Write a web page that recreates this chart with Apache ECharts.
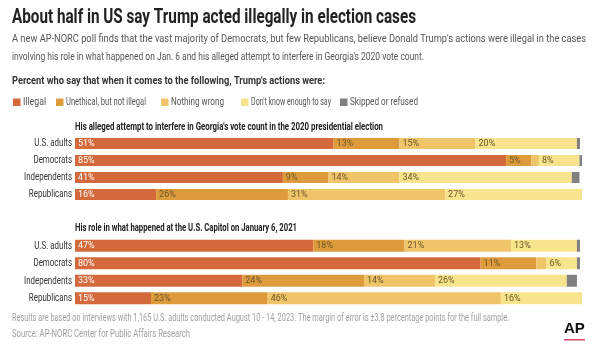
<!DOCTYPE html>
<html><head><meta charset="utf-8">
<script src="https://cdn.jsdelivr.net/npm/echarts@6/dist/echarts.min.js"></script>
<style>html,body{margin:0;padding:0;background:#fff}#c{width:600px;height:346px}</style>
</head><body><div id="c"></div>
<script>
const categories = ['U.S. adults', 'Democrats', 'Independents', 'Republicans'];
const seriesNames = ['Illegal', 'Unethical, but not illegal', 'Nothing wrong', "Don't know enough to say", 'Skipped or refused'];
// Chart 1: Georgia vote count
const georgiaIllegal   = [51, 85, 41, 16];
const georgiaUnethical = [13, 5, 9, 26];
const georgiaNothing   = [15, 1.5, 14, 31];
const georgiaDontKnow  = [20, 8, 34, 27];
const georgiaSkipped   = [0.6, 0.6, 1.5, 0];
// Chart 2: U.S. Capitol, January 6
const capitolIllegal   = [47, 80, 33, 15];
const capitolUnethical = [18, 11, 24, 23];
const capitolNothing   = [21, 2, 14, 46];
const capitolDontKnow  = [13, 6, 26, 16];
const capitolSkipped   = [0.6, 0.6, 2, 0];

const colors = ['#d4693b', '#dd9b3c', '#f0c468', '#f9e48e', '#808080'];
const labelColors = ['#ffffff', '#6a5628', '#6a5628', '#6a5628', '#6a5628'];
const FAM = 'Roboto, "Liberation Sans", sans-serif';

const mctx = document.createElement('canvas').getContext('2d');
function measure(text, size, weight) {
  mctx.font = weight + ' ' + size + 'px ' + FAM;
  return mctx.measureText(text).width;
}
function fitText(text, x, y, targetW, size, weight, color) {
  const w = measure(text, size, weight);
  return { type: 'text', x: x, y: y, scaleX: targetW / w, silent: true,
    style: { text: text, fontFamily: FAM, fontSize: size, fontWeight: weight, fill: color, textVerticalAlign: 'middle' } };
}

const chart = echarts.init(document.getElementById('c'));
const grids = [
  { left: 75, right: 18, top: 135, height: 68 },
  { left: 75, right: 18, top: 237, height: 70 }
];
function mkSeries(dataSets, gi) {
  return dataSets.map((d, i) => ({
    name: seriesNames[i], type: 'bar', stack: 's' + gi, xAxisIndex: gi, yAxisIndex: gi,
    data: d, barWidth: gi === 0 ? 11 : 12,
    itemStyle: { color: colors[i] },
    label: { show: i < 4, position: 'insideLeft', distance: 3, color: labelColors[i],
      fontFamily: FAM, fontSize: 9,
      formatter: p => (p.value >= 3 ? p.value + '%' : '') },
    emphasis: { disabled: true }, animation: false
  }));
}
const series = mkSeries([georgiaIllegal, georgiaUnethical, georgiaNothing, georgiaDontKnow, georgiaSkipped], 0)
  .concat(mkSeries([capitolIllegal, capitolUnethical, capitolNothing, capitolDontKnow, capitolSkipped], 1));

const xAx = gi => ({ type: 'value', gridIndex: gi, min: 0, max: 100, show: false });
const yAx = gi => ({ type: 'category', gridIndex: gi, data: categories, inverse: true,
  axisLine: { show: false }, axisTick: { show: false }, axisLabel: { show: false } });

chart.setOption({
  animation: false,
  grid: grids,
  xAxis: [xAx(0), xAx(1)],
  yAxis: [yAx(0), yAx(1)],
  series: series
});

// Legend drawn as key (square + condensed text)
const legendSquareX = [13, 56, 161, 241, 340];
const legendTextEnd = [46, 146, 224, 331, 418];
const legendGraphics = [];
seriesNames.forEach((n, i) => {
  legendGraphics.push({ type: 'rect', silent: true, shape: { x: legendSquareX[i], y: 98.5, width: 7.5, height: 7.5 }, style: { fill: colors[i] } });
  legendGraphics.push(fitText(n, legendSquareX[i] + 10, 102.5, legendTextEnd[i] - legendSquareX[i] - 10, 11, 'normal', '#555'));
});

// Category labels placed with the library's own category scale
const catScale = 48 / measure('Independents', 11, 'normal');
const catLabels = [];
[0, 1].forEach(gi => {
  categories.forEach(c => {
    const y = chart.convertToPixel({ yAxisIndex: gi }, c);
    catLabels.push({ type: 'text', x: 72, y: y, scaleX: catScale, silent: true,
      style: { text: c, fontFamily: FAM, fontSize: 11, fontWeight: 'normal', fill: '#333', textAlign: 'right', textVerticalAlign: 'middle' } });
  });
});

chart.setOption({
  graphic: [
    fitText('About half in US say Trump acted illegally in election cases', 12, 17.5, 404, 20, 'bold', '#222'),
    fitText("A new AP-NORC poll finds that the vast majority of Democrats, but few Republicans, believe Donald Trump's actions were illegal in the cases", 12, 39, 574, 11.5, 'normal', '#555'),
    fitText("involving his role in what happened on Jan. 6 and his alleged attempt to interfere in Georgia's 2020 vote count.", 12, 57, 412, 11.5, 'normal', '#555'),
    fitText("Percent who say that when it comes to the following, Trump's actions were:", 12, 81, 313, 11, 'bold', '#333'),
    fitText("His alleged attempt to interfere in Georgia's vote count in the 2020 presidential election", 75, 127, 308, 10.5, 'bold', '#222'),
    fitText('His role in what happened at the U.S. Capitol on January 6, 2021', 75, 228, 222, 10.5, 'bold', '#222'),
    fitText('Results are based on interviews with 1,165 U.S. adults conducted August 10 - 14, 2023. The margin of error is \u00b13.8 percentage points for the full sample.', 12, 318, 497, 10, 'normal', '#a0a0a0'),
    fitText('Source: AP-NORC Center for Public Affairs Research', 12, 334, 178, 10, 'normal', '#a0a0a0'),
    { type: 'text', x: 564, y: 329, silent: true,
      style: { text: 'AP', fontFamily: '"Liberation Sans", Arial, sans-serif', fontSize: 15, fontWeight: 'bold', fill: '#111', textVerticalAlign: 'middle' } },
    { type: 'rect', silent: true, shape: { x: 564, y: 339, width: 21, height: 1.5 }, style: { fill: '#e0436a' } }
  ].concat(legendGraphics, catLabels)
});
</script></body></html>
